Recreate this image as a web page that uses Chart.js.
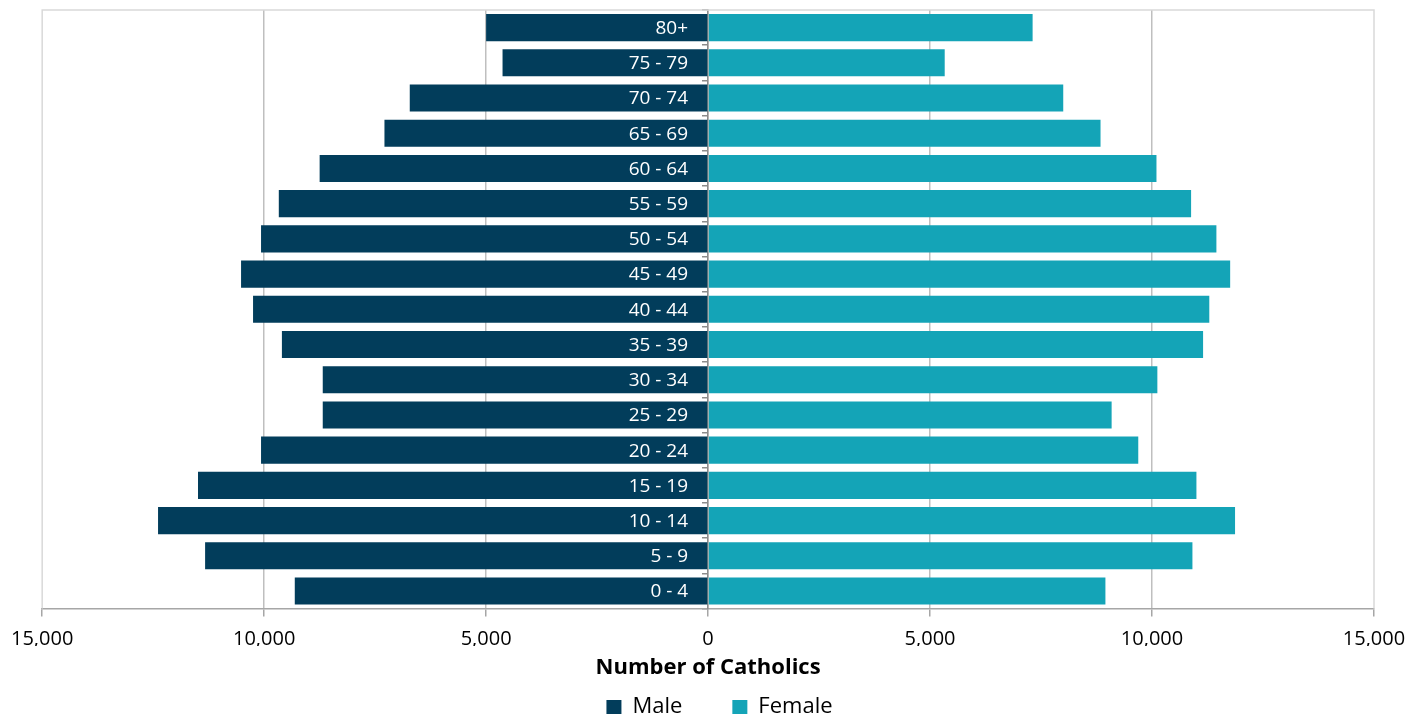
<!DOCTYPE html>
<html>
<head>
<meta charset="utf-8">
<script src="https://cdn.jsdelivr.net/npm/chart.js@4/dist/chart.umd.min.js"></script>
<style>
  html, body { margin: 0; padding: 0; background: #fff; }
  #wrap { width: 1425px; height: 717px; position: relative; }
</style>
</head>
<body>
<div id="wrap"><canvas id="pyramid"></canvas></div>
<script>
// age groups, top to bottom as in the picture
const ageGroups = ['80+', '75 - 79', '70 - 74', '65 - 69', '60 - 64', '55 - 59', '50 - 54', '45 - 49',
  '40 - 44', '35 - 39', '30 - 34', '25 - 29', '20 - 24', '15 - 19', '10 - 14', '5 - 9', '0 - 4'];

// male counts (drawn to the left)
const maleCounts = [5000, 4630, 6720, 7290, 8750, 9670, 10070, 10520,
  10250, 9600, 8680, 8680, 10070, 11490, 12390, 11330, 9310];

// female counts
const femaleCounts = [7310, 5330, 8000, 8840, 10100, 10880, 11450, 11760,
  11290, 11150, 10120, 9090, 9690, 11000, 11870, 10910, 8950];

const xTicks = [-15000, -10000, -5000, 0, 5000, 10000, 15000];

const MALE = '#023D5B';
const FEMALE = '#14A4B7';
const FONT = "'Open Sans', sans-serif";

// light frame round the plot area (top + sides)
const frame = {
  id: 'frame',
  beforeDatasetsDraw(chart) {
    const { ctx, chartArea: a } = chart;
    ctx.save();
    ctx.strokeStyle = '#D9D9D9';
    ctx.lineWidth = 1.5;
    ctx.beginPath();
    ctx.moveTo(a.left, a.bottom);
    ctx.lineTo(a.left, a.top);
    ctx.lineTo(a.right, a.top);
    ctx.lineTo(a.right, a.bottom);
    ctx.stroke();
    ctx.restore();
  }
};

// age labels in white, right-aligned just left of the zero line
const ageLabels = {
  id: 'ageLabels',
  afterDatasetsDraw(chart) {
    const { ctx, scales: { x, y } } = chart;
    const right = x.getPixelForValue(0) - 20;
    ctx.save();
    ctx.font = `19px ${FONT}`;
    ctx.fillStyle = '#FFFFFF';
    ctx.textAlign = 'right';
    ctx.textBaseline = 'middle';
    chart.data.labels.forEach((lab, i) => {
      ctx.fillText(lab, right, y.getPixelForValue(i) + 1);
    });
    ctx.restore();
  }
};

// legend sits a little right of centre in the original
const legendShift = {
  id: 'legendShift',
  afterLayout(chart) {
    chart.legend.left += 14;
    chart.legend.right += 14;
  }
};

new Chart(document.getElementById('pyramid'), {
  type: 'bar',
  data: {
    labels: ageGroups,
    datasets: [
      { label: 'Male', data: maleCounts.map(v => -v), backgroundColor: MALE },
      { label: 'Female', data: femaleCounts, backgroundColor: FEMALE }
    ]
  },
  options: {
    indexAxis: 'y',
    responsive: true,
    maintainAspectRatio: false,
    animation: false,
    barPercentage: 0.77,
    categoryPercentage: 1,
    layout: { padding: { top: 10, left: 37, right: 51, bottom: -11 } },
    plugins: {
      legend: {
        position: 'bottom',
        labels: {
          font: { family: FONT, size: 22 },
          color: '#000',
          boxWidth: 15,
          boxHeight: 14,
          padding: 50,
          generateLabels(chart) {
            return chart.data.datasets.map((ds, i) => ({
              text: ds.label, fillStyle: ds.backgroundColor, strokeStyle: ds.backgroundColor,
              lineWidth: 0, datasetIndex: i, fontColor: '#000'
            }));
          }
        }
      },
      tooltip: { enabled: false }
    },
    scales: {
      x: {
        stacked: true,
        min: -15000,
        max: 15000,
        afterBuildTicks(scale) { scale.ticks = xTicks.map(v => ({ value: v })); },
        grid: {
          color: ctx => (Math.abs(ctx.tick && ctx.tick.value) === 15000 ? 'rgba(0,0,0,0)' : '#BFBFBF'),
          lineWidth: 1.5,
          tickLength: 8,
          tickColor: '#A6A6A6'
        },
        border: { color: '#A6A6A6', width: 1.5 },
        ticks: {
          font: { family: FONT, size: 20 },
          color: '#000',
          padding: 11,
          maxRotation: 0,
          callback: v => Math.abs(v).toLocaleString('en-US')
        },
        title: {
          display: true,
          text: 'Number of Catholics',
          font: { family: FONT, size: 22, weight: 'bold' },
          color: '#000',
          padding: { top: -8, bottom: -35 }
        }
      },
      y: {
        stacked: true,
        position: { x: 0 },
        grid: {
          offset: true,
          drawOnChartArea: false,
          tickLength: 5,
          tickColor: '#8C8C8C',
          lineWidth: 1.5
        },
        border: { color: '#8C8C8C', width: 1.5 },
        ticks: { display: false }
      }
    }
  },
  plugins: [frame, ageLabels, legendShift]
});
</script>
</body>
</html>
